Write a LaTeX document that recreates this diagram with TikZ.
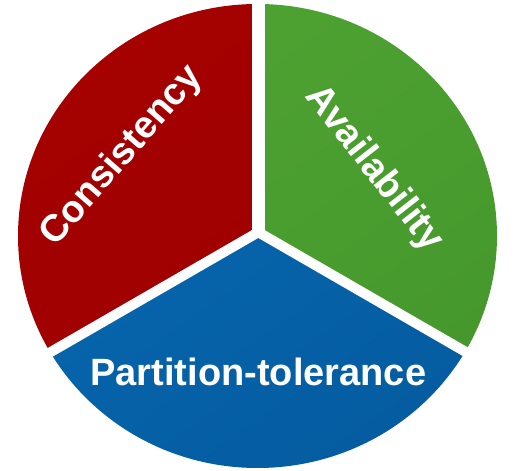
\documentclass[tikz,border=0pt]{standalone}
\usepackage{fontspec}
\setmainfont{Liberation Sans}
\usetikzlibrary{calc}
\definecolor{CAP_Red}{HTML}{A80202}
\definecolor{CAP_RedDark}{HTML}{9E0000}
\definecolor{CAP_Green}{HTML}{4DA131}
\definecolor{CAP_GreenDark}{HTML}{43952A}
\definecolor{CAP_Blue}{HTML}{0867AE}
\definecolor{CAP_BlueDark}{HTML}{03579B}

\begin{document}
\begin{tikzpicture}[
  x=1pt, y=1pt,
  every node/.style={font=\fontsize{38}{42}\selectfont\bfseries, text=white, inner sep=0pt},
  gap/.style={white, line width=13.3pt},
  sgap/.style={white, line width=10pt}
]
  \useasboundingbox (0,0) rectangle (515,471);
  \coordinate (c) at (257.5,235);
  \coordinate (j) at (258.3,238.8);

  % Consistency sector
  \begin{scope}
    \clip (c) ellipse [x radius=239.5pt, y radius=232pt];
    \shade[top color=CAP_Red, bottom color=CAP_RedDark, shading angle=35]
      (j) -- ++(0,300) -- ++(-400,0) -- ($(j)+(-400,-231)$) -- cycle;
  \end{scope}

  % Availability sector
  \begin{scope}
    \clip (c) ellipse [x radius=239.5pt, y radius=232pt];
    \shade[top color=CAP_Green, bottom color=CAP_GreenDark, shading angle=35]
      (j) -- ++(0,300) -- ++(400,0) -- ($(j)+(400,-231)$) -- cycle;
  \end{scope}

  % Partition-tolerance sector
  \begin{scope}
    \clip (c) ellipse [x radius=239.5pt, y radius=232pt];
    \shade[top color=CAP_Blue, bottom color=CAP_BlueDark, shading angle=35]
      (j) -- ($(j)+(-400,-231)$) -- ++(0,-100) -- ++(800,0) -- ($(j)+(400,-231)$) -- cycle;
  \end{scope}

  % White gaps
  \draw[gap] (j) -- ++(0,260);
  \draw[sgap] (j) -- ($(j)+(210:280)$);
  \draw[sgap] (j) -- ($(j)+(330:280)$);

  % Labels
  \node[rotate=49] (cons) at (122,315) {Consistency};
  \node[rotate=-52] (avail) at (374,302) {Availability};
  \node[anchor=base] (part) at (258.3,85.3) {Partition-tolerance};
\end{tikzpicture}
\end{document}
